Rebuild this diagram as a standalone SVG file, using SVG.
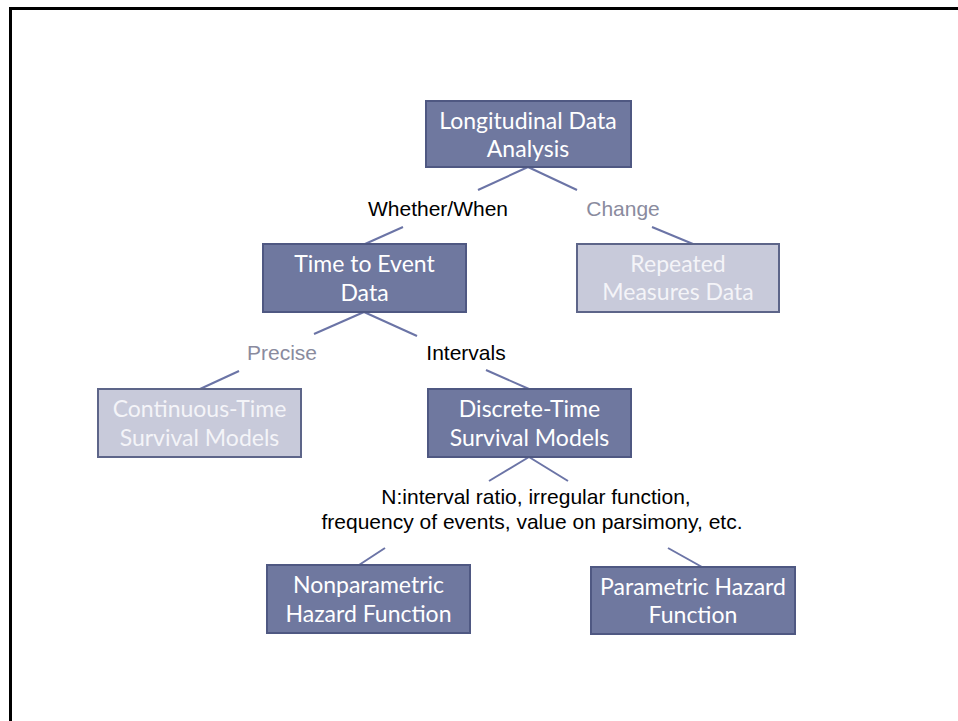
<svg xmlns="http://www.w3.org/2000/svg" width="958" height="721" viewBox="0 0 958 721">
  <style>
    .frame { fill: none; stroke: #000000; stroke-width: 3; }
    .dark rect { fill: #6f789f; stroke: #4f5882; stroke-width: 2; }
    .light rect { fill: #c8cada; stroke: #5d6589; stroke-width: 2; }
    .node text { font-family: Lato, "Open Sans", "Liberation Sans", sans-serif; font-size: 23px; fill: #ffffff; text-anchor: middle; }
    .light text { fill: #f4f4f8; }
    .conn line { stroke: #6b74a6; stroke-width: 2; }
    .lbl { font-family: "Liberation Sans", Arial, sans-serif; font-size: 21px; text-anchor: middle; }
    .on { fill: #000000; }
    .off { fill: #8a8b9e; }
  </style>

  <rect x="0" y="0" width="958" height="721" fill="#ffffff"/>
  <!-- slide frame: top and left edges -->
  <path class="frame" d="M10.5,721 V8.5 H958"/>

  <!-- connectors -->
  <g id="connectors" class="conn">
    <line x1="528" y1="167" x2="478" y2="190"/>
    <line x1="528" y1="167" x2="577" y2="190"/>
    <line x1="403" y1="227" x2="365" y2="244"/>
    <line x1="652" y1="227" x2="693" y2="244"/>
    <line x1="364" y1="312" x2="314" y2="334"/>
    <line x1="364" y1="312" x2="417" y2="336"/>
    <line x1="239" y1="371" x2="200" y2="389"/>
    <line x1="486" y1="370" x2="529" y2="389"/>
    <line x1="529" y1="457" x2="489" y2="481"/>
    <line x1="529" y1="457" x2="568" y2="481"/>
    <line x1="385" y1="548" x2="359" y2="565"/>
    <line x1="668" y1="548" x2="702" y2="567"/>
  </g>

  <!-- branch labels -->
  <g id="labels">
    <text class="lbl on" x="438" y="216">Whether/When</text>
    <text class="lbl off" x="623" y="216">Change</text>
    <text class="lbl off" x="282" y="360">Precise</text>
    <text class="lbl on" x="466" y="360">Intervals</text>
    <text class="lbl on" x="536" y="504">N:interval ratio, irregular function,</text>
    <text class="lbl on" x="532" y="529">frequency of events, value on parsimony, etc.</text>
  </g>

  <g id="longitudinal" class="node dark">
    <rect x="426" y="101" width="205" height="66"/>
    <text x="528" y="129">Longitudinal Data</text>
    <text x="528" y="157">Analysis</text>
  </g>

  <g id="time-to-event" class="node dark">
    <rect x="263" y="244" width="203" height="68"/>
    <text x="364.5" y="272">Time to Event</text>
    <text x="364.5" y="301">Data</text>
  </g>

  <g id="repeated-measures" class="node light">
    <rect x="577" y="244" width="202" height="68"/>
    <text x="678" y="272">Repeated</text>
    <text x="678" y="300">Measures Data</text>
  </g>

  <g id="continuous-time" class="node light">
    <rect x="98" y="389" width="203" height="68"/>
    <text x="199.5" y="417">Continuous-Time</text>
    <text x="199.5" y="446">Survival Models</text>
  </g>

  <g id="discrete-time" class="node dark">
    <rect x="428" y="389" width="203" height="68"/>
    <text x="529.5" y="417">Discrete-Time</text>
    <text x="529.5" y="446">Survival Models</text>
  </g>

  <g id="nonparametric" class="node dark">
    <rect x="267" y="565" width="203" height="68"/>
    <text x="368.5" y="593">Nonparametric</text>
    <text x="368.5" y="622">Hazard Function</text>
  </g>

  <g id="parametric" class="node dark">
    <rect x="591" y="567" width="204" height="67"/>
    <text x="693" y="595">Parametric Hazard</text>
    <text x="693" y="623">Function</text>
  </g>
</svg>
